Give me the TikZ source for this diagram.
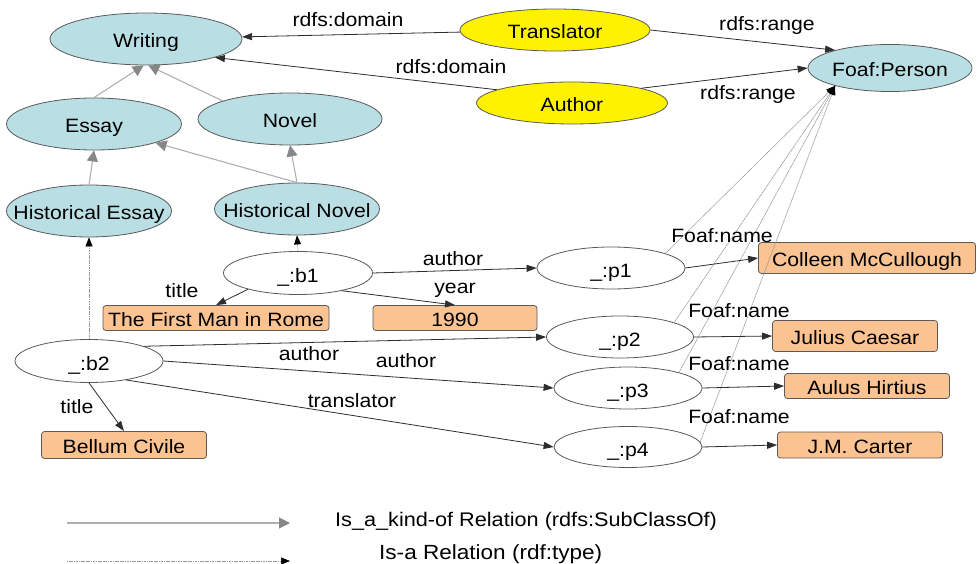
\documentclass[tikz,border=0pt]{standalone}
\usepackage{fontspec}
\setmainfont{Liberation Sans}[FakeStretch=1.1]
\usetikzlibrary{arrows.meta,shapes.geometric}
\definecolor{cblue}{RGB}{185,222,228}
\definecolor{corange}{RGB}{250,195,145}
\definecolor{cborder}{RGB}{90,90,90}
\definecolor{cedge}{RGB}{45,45,45}
\definecolor{csub}{RGB}{175,175,175}
\definecolor{csubtip}{RGB}{135,135,135}
\definecolor{ctype}{RGB}{150,150,150}
\newcommand{\zw}[1]{\makebox[0pt][c]{#1}}
\begin{document}
\begin{tikzpicture}[x=1pt,y=-1pt,
  font=\fontsize{19.3}{22}\selectfont,
  ell/.style={ellipse, draw=cborder, line width=0.8pt, inner sep=0pt, text height=18pt, text depth=0pt},
  cls/.style={ell, fill=cblue},
  prop/.style={ell, fill=yellow},
  res/.style={ell, fill=white},
  lit/.style={rectangle, rounded corners=3pt, draw=cborder, line width=0.8pt, fill=corange, inner sep=0pt, text height=16pt, text depth=0pt},
  rel/.style={draw=cedge, line width=0.8pt, -{Triangle[length=10pt,width=7pt]}},
  sub/.style={draw=csub, line width=1.1pt, -{Triangle[length=11pt,width=11pt,color=csubtip]}},
  typ/.style={draw=ctype, line width=0.6pt, dash pattern=on 1.2pt off 0.5pt, -{Triangle[length=9pt,width=7pt,color=black]}},
  lbl/.style={inner sep=0pt, anchor=base},
  leg/.style={inner sep=0pt, anchor=base west, font=\fontsize{19.7}{22}\selectfont}
]
\useasboundingbox (0,0) rectangle (977,564);

% class and property nodes
\node[cls, minimum width=192pt, minimum height=52pt] (writing) at (146,39) {\zw{Writing}};
\node[prop, minimum width=190pt, minimum height=42pt] (translator) at (555,30) {\zw{Translator}};
\node[prop, minimum width=191pt, minimum height=42pt] (author) at (572,103) {\zw{Author}};
\node[cls, minimum width=164pt, minimum height=47pt] (person) at (890,68) {\zw{Foaf:Person}};
\node[cls, minimum width=175pt, minimum height=52pt] (essay) at (94,124) {\zw{Essay}};
\node[cls, minimum width=184pt, minimum height=52pt] (novel) at (290,119) {\zw{Novel}};
\node[cls, minimum width=165pt, minimum height=52pt] (hessay) at (89,211) {\zw{Historical Essay}};
\node[cls, minimum width=165pt, minimum height=52pt] (hnovel) at (297,209) {\zw{Historical Novel}};

% resource nodes
\node[res, minimum width=149pt, minimum height=43pt] (b1) at (298,273) {\zw{\_:b1}};
\node[res, minimum width=148pt, minimum height=43pt] (b2) at (89,361) {\zw{\_:b2}};
\node[res, minimum width=148pt, minimum height=42pt] (p1) at (611,268) {\zw{\_:p1}};
\node[res, minimum width=147pt, minimum height=42pt] (p2) at (620,337) {\zw{\_:p2}};
\node[res, minimum width=148pt, minimum height=42pt] (p3) at (628,388) {\zw{\_:p3}};
\node[res, minimum width=148pt, minimum height=41pt] (p4) at (628,447) {\zw{\_:p4}};

% literal nodes
\node[lit, minimum width=226pt, minimum height=25pt] (firstman) at (216,318) {The First Man in Rome};
\node[lit, minimum width=164pt, minimum height=25pt] (year1990) at (455,318) {1990};
\node[lit, minimum width=165pt, minimum height=27pt] (bellum) at (124,445) {Bellum Civile};
\node[lit, minimum width=217pt, minimum height=31pt] (colleen) at (867,258) {Colleen McCullough};
\node[lit, minimum width=165pt, minimum height=31pt] (julius) at (855,336) {Julius Caesar};
\node[lit, minimum width=165pt, minimum height=25pt] (aulus) at (867,386) {Aulus Hirtius};
\node[lit, minimum width=165pt, minimum height=26pt] (carter) at (860,445) {J.M. Carter};

% subclass relations
\draw[sub] (essay.north) -- (writing.265);
\draw[sub] (novel.165) -- (writing.-85);
\draw[sub] (hessay.north) -- (essay.south);
\draw[sub] (hnovel.north) -- (essay.-17);
\draw[sub] (hnovel.north) -- (novel.south);

% type relations
\draw[typ] (b1.north) -- (hnovel.south);
\draw[typ] (b2.north) -- (hessay.south);
\draw[typ] (p1.15) -- (person.-162);
\draw[typ] (p2.15) -- (person.-162);
\draw[typ] (p3.17) -- (person.-162);
\draw[typ] (p4.4) -- (person.-162);

% property relations
\draw[rel] (translator) -- (writing);
\draw[rel] (author.170) -- (writing.-15);
\draw[rel] (translator.east) -- (person.162);
\draw[rel] (author.12) -- (person.west);
\draw[rel] (b1.-162) -- (firstman.north);
\draw[rel] (b1.-22) -- (year1990.north);
\draw[rel] (b1.east) -- (p1.west);
\draw[rel] (b2.15) -- (p2.west);
\draw[rel] (b2.east) -- (p3.west);
\draw[rel] (b2.-27) -- (p4.west);
\draw[rel] (b2.south) -- (bellum.north);
\draw[rel] (p1.east) -- (colleen.west);
\draw[rel] (p2.east) -- (julius.west);
\draw[rel] (p3.east) -- (aulus.west);
\draw[rel] (p4.east) -- (carter.west);

% edge labels
\node[lbl] (ldom1) at (348,27) {rdfs:domain};
\node[lbl] (ldom2) at (451,74) {rdfs:domain};
\node[lbl] (lran1) at (767,31) {rdfs:range};
\node[lbl] (lran2) at (748,100) {rdfs:range};
\node[lbl] (ltitle1) at (182,297) {title};
\node[lbl] (lyear) at (455,293) {year};
\node[lbl] (lauth1) at (453,265) {author};
\node[lbl] (lauth2) at (309,360) {author};
\node[lbl] (lauth3) at (406,367) {author};
\node[lbl] (ltrans) at (352,407) {translator};
\node[lbl] (ltitle2) at (77,413) {title};
\node[lbl] (lname1) at (722,242) {Foaf:name};
\node[lbl] (lname2) at (739,317) {Foaf:name};
\node[lbl] (lname3) at (739,370) {Foaf:name};
\node[lbl] (lname4) at (739,423) {Foaf:name};

% legend
\coordinate (leg1a) at (67,523);
\coordinate (leg1b) at (290,523);
\coordinate (leg2a) at (67,561);
\coordinate (leg2b) at (290,561);
\draw[sub] (leg1a) -- (leg1b);
\draw[typ] (leg2a) -- (leg2b);
\node[leg] (legt1) at (335,526) {Is\_a\_kind-of Relation (rdfs:SubClassOf)};
\node[leg, font=\fontsize{20.5}{22}\selectfont] (legt2) at (379,559) {Is-a Relation (rdf:type)};
\end{tikzpicture}
\end{document}
